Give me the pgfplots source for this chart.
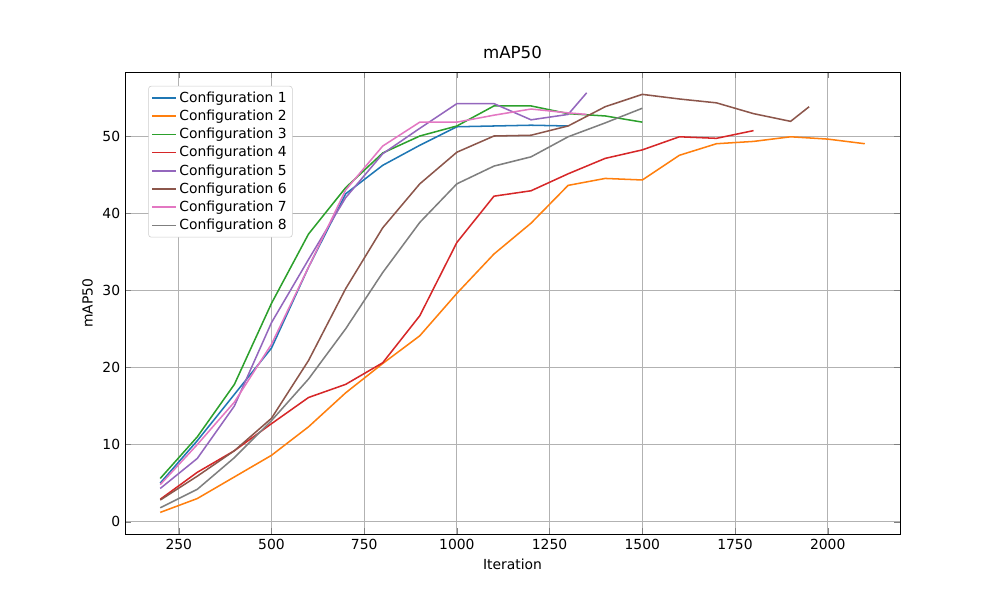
\documentclass[border=0pt]{standalone}
\usepackage{pgfplots}
\pgfplotsset{compat=1.18}
\usepackage{fontspec}
\setmainfont{DejaVu Sans}
\definecolor{c1}{HTML}{1F77B4}\definecolor{c2}{HTML}{FF7F0E}\definecolor{c3}{HTML}{2CA02C}\definecolor{c4}{HTML}{D62728}
\definecolor{c5}{HTML}{9467BD}\definecolor{c6}{HTML}{8C564B}\definecolor{c7}{HTML}{E377C2}\definecolor{c8}{HTML}{7F7F7F}
\begin{document}
\fontsize{10}{12}\selectfont
\begin{tikzpicture}
\useasboundingbox (0,0) rectangle (720pt,432pt);
\begin{axis}[at={(90pt,47.52pt)},anchor=south west,scale only axis,width=558pt,height=332.64pt,
xmin=105,xmax=2195,ymin=-1.6,ymax=58.3,
xtick={250,500,750,1000,1250,1500,1750,2000},ytick={0,10,20,30,40,50},
grid=major,grid style={gray!60,line width=0.6pt},
/pgf/number format/assume math mode=true,
scaled x ticks=false,
xticklabel style={/pgf/number format/.cd,set thousands separator={}},
tick label style={font=\fontsize{10}{12}\selectfont},
label style={font=\fontsize{10}{12}\selectfont},
title={mAP50},title style={font=\fontsize{12}{14}\selectfont},
xlabel={Iteration},ylabel={mAP50},
legend pos=north west,
legend style={font=\fontsize{10}{12}\selectfont,draw=gray!40,rounded corners=2pt,row sep=0pt,inner sep=2pt},
legend cell align=left,
every axis plot/.append style={line width=1.1pt,mark=none},
]
\addplot[c1] coordinates {(200,5.0)(300,10.5)(400,16.5)(500,22.5)(600,33)(700,42.5)(800,46.2)(900,48.8)(1000,51.2)(1100,51.3)(1200,51.4)(1300,51.3)};
\addplot[c2] coordinates {(200,1.2)(300,3.0)(400,5.8)(500,8.6)(600,12.3)(700,16.7)(800,20.5)(900,24.1)(1000,29.6)(1100,34.7)(1200,38.7)(1300,43.6)(1400,44.5)(1500,44.3)(1600,47.5)(1700,49.0)(1800,49.3)(1900,49.9)(2000,49.6)(2100,49.0)};
\addplot[c3] coordinates {(200,5.6)(300,11)(400,17.8)(500,28.3)(600,37.3)(700,43.3)(800,47.8)(900,50)(1000,51.3)(1100,53.9)(1200,53.9)(1300,52.9)(1400,52.6)(1500,51.8)};
\addplot[c4] coordinates {(200,2.9)(300,6.4)(400,9.2)(500,12.7)(600,16.1)(700,17.8)(800,20.6)(900,26.7)(1000,36.2)(1100,42.2)(1200,42.9)(1300,45.1)(1400,47.1)(1500,48.2)(1600,49.9)(1700,49.7)(1800,50.7)};
\addplot[c5] coordinates {(200,4.3)(300,8.2)(400,15)(500,25.8)(600,34)(700,42)(800,47.7)(900,51)(1000,54.2)(1100,54.2)(1200,52.1)(1300,52.8)(1350,55.6)};
\addplot[c6] coordinates {(200,2.8)(300,5.9)(400,9.2)(500,13.4)(600,20.9)(700,30.2)(800,38.1)(900,43.8)(1000,47.9)(1100,50)(1200,50.1)(1300,51.3)(1400,53.8)(1500,55.4)(1600,54.8)(1700,54.3)(1800,52.9)(1900,51.9)(1950,53.8)};
\addplot[c7] coordinates {(200,4.8)(300,10)(400,15.5)(500,23)(600,33)(700,43)(800,48.7)(900,51.8)(1000,51.8)(1100,52.7)(1200,53.5)(1300,53.0)(1350,52.8)};
\addplot[c8] coordinates {(200,1.8)(300,4.2)(400,8.3)(500,13.1)(600,18.5)(700,25)(800,32.3)(900,38.8)(1000,43.8)(1100,46.1)(1200,47.3)(1300,49.9)(1400,51.7)(1500,53.6)};
\legend{Configuration 1,Configuration 2,Configuration 3,Configuration 4,Configuration 5,Configuration 6,Configuration 7,Configuration 8}
\end{axis}
\end{tikzpicture}
\end{document}
